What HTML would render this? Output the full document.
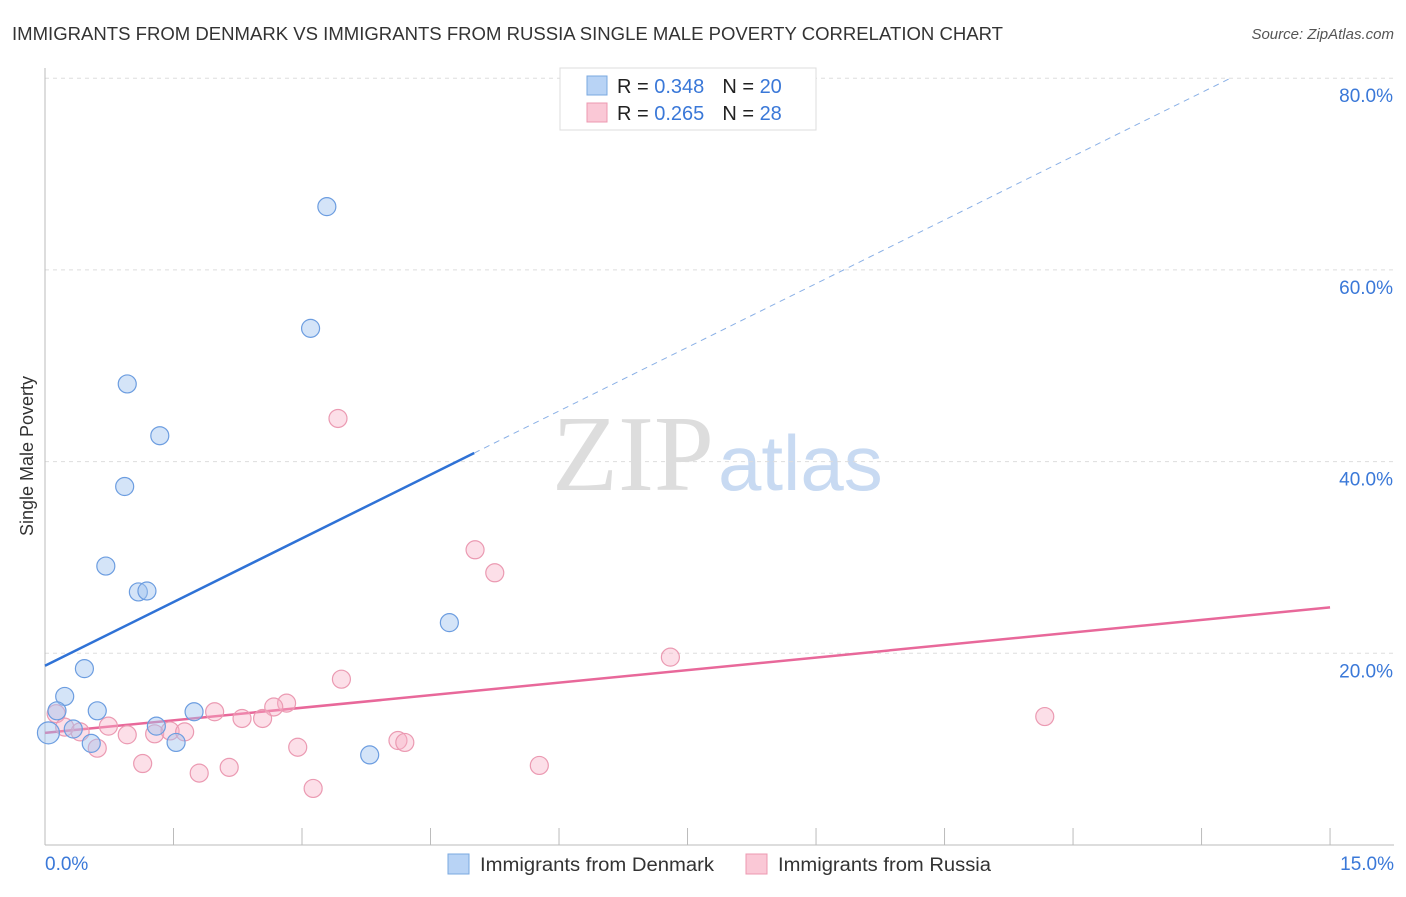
<!DOCTYPE html>
<html><head><meta charset="utf-8"><style>
body{margin:0;background:#fff;font-family:"Liberation Sans",sans-serif}
</style></head><body>
<svg width="1406" height="892" xmlns="http://www.w3.org/2000/svg">
<text x="12" y="40" font-size="18" fill="#333" textLength="991" lengthAdjust="spacingAndGlyphs">IMMIGRANTS FROM DENMARK VS IMMIGRANTS FROM RUSSIA SINGLE MALE POVERTY CORRELATION CHART</text>
<text x="1394" y="39" font-size="15" fill="#555" font-style="italic" text-anchor="end">Source: ZipAtlas.com</text>
<text x="714" y="490" font-size="108" font-family="Liberation Serif,serif" fill="#ddd" text-anchor="end">ZIP</text>
<text x="718" y="490" font-size="78" fill="#c8daf2">atlas</text>
<g id="grid"></g>
<line x1="45" y1="68" x2="45" y2="845" stroke="#bbb"/>
<line x1="45" y1="845" x2="1394" y2="845" stroke="#bbb"/>
<g id="ticks"></g>
<text x="33" y="456" font-size="18" fill="#333" text-anchor="middle" transform="rotate(-90 33 456)">Single Male Poverty</text>
<text x="45" y="870" font-size="19" fill="#3a78d8">0.0%</text>
<text x="1394" y="870" font-size="19" fill="#3a78d8" text-anchor="end">15.0%</text>
<g id="lines"></g>
<g id="pts"></g>
<g>
<rect x="560" y="68" width="256" height="62" fill="#fff" stroke="#ddd"/>
<rect x="587" y="76" width="20" height="19" fill="#b8d3f5" stroke="#7aa8e0"/>
<rect x="587" y="103" width="20" height="19" fill="#fac8d6" stroke="#ec98b0"/>
<text x="617" y="93" font-size="20" fill="#222">R = <tspan fill="#3a78d8">0.348</tspan><tspan dx="18">N = </tspan><tspan fill="#3a78d8">20</tspan></text>
<text x="617" y="120" font-size="20" fill="#222">R = <tspan fill="#3a78d8">0.265</tspan><tspan dx="18">N = </tspan><tspan fill="#3a78d8"> 28</tspan></text>
</g>
<g><rect x="448" y="854" width="21" height="20" fill="#b8d3f5" stroke="#7aa8e0"/><text x="480" y="871" font-size="19" fill="#333" textLength="234" lengthAdjust="spacingAndGlyphs">Immigrants from Denmark</text></g>
<g><rect x="746" y="854" width="21" height="20" fill="#fac8d6" stroke="#ec98b0"/><text x="778" y="871" font-size="19" fill="#333" textLength="213" lengthAdjust="spacingAndGlyphs">Immigrants from Russia</text></g>
</svg>
<script>
const yTicks=[20,40,60,80];
const xTicks=[0,1.5,3,4.5,6,7.5,9,10.5,12,13.5,15];
const blueX=[3.29,3.10,0.96,1.34,0.93,0.71,1.09,1.19,4.72,0.46,0.23,0.14,0.61,1.74,0.33,1.30,0.04,0.54,1.53,3.79];
const blueY=[66.6,53.9,48.1,42.7,37.4,29.1,26.4,26.5,23.2,18.4,15.5,14.0,14.0,13.9,12.1,12.4,11.7,10.6,10.7,9.4];
const pinkX=[3.42,5.02,5.25,7.30,11.67,3.46,2.82,2.67,1.98,2.30,2.54,0.74,0.13,0.23,0.41,0.96,1.28,1.46,1.63,2.95,0.61,4.12,4.20,1.14,2.15,1.80,5.77,3.13];
const pinkY=[44.5,30.8,28.4,19.6,13.4,17.3,14.8,14.4,13.9,13.2,13.2,12.4,13.7,12.3,11.8,11.5,11.6,11.9,11.8,10.2,10.1,10.9,10.7,8.5,8.1,7.5,8.3,5.9];
const blueLine=[18.7,4.43];const pinkLine=[11.7,0.873];
const sx=v=>45+v*85.67, sy=v=>845-v*9.585;
const NS="http://www.w3.org/2000/svg";
function mk(t,a,p){const e=document.createElementNS(NS,t);for(const k in a)e.setAttribute(k,a[k]);p.appendChild(e);return e;}
const grid=document.getElementById('grid'),ticks=document.getElementById('ticks');
yTicks.forEach(t=>{
const l=mk('line',{x1:45,x2:1394,y1:sy(t),y2:sy(t),stroke:'#ddd','stroke-dasharray':'4 4'},grid);


const tx=mk('text',{x:1393,y:sy(t)+24,'font-size':19,fill:'#3a78d8','text-anchor':'end'},ticks);
tx.textContent=t.toFixed(1)+'%';


});
xTicks.forEach(t=>{
const l=mk('line',{x1:sx(t),x2:sx(t),y1:828,y2:845,stroke:'#bbb'},ticks);


});
const lg=document.getElementById('lines');
const bx1=5.01,bxEnd=(80-blueLine[0])/blueLine[1];
let l=mk('line',{x1:sx(0),y1:sy(blueLine[0]),x2:sx(bx1),y2:sy(blueLine[0]+blueLine[1]*bx1),stroke:'#2f72d6','stroke-width':2.5},lg);


l=mk('line',{x1:sx(bx1),y1:sy(blueLine[0]+blueLine[1]*bx1),x2:sx(bxEnd),y2:sy(80),stroke:'#8ab0e6','stroke-width':1,'stroke-dasharray':'6 5'},lg);


l=mk('line',{x1:sx(0),y1:sy(pinkLine[0]),x2:sx(15),y2:sy(pinkLine[0]+pinkLine[1]*15),stroke:'#e8689a','stroke-width':2.5},lg);


const pg=document.getElementById('pts');
pinkX.forEach((x,i)=>{const c=mk('circle',{cx:sx(x),cy:sy(pinkY[i]),r:9,fill:'rgba(247,176,198,0.4)',stroke:'#eb9ab2','stroke-width':1.2},pg);

});
blueX.forEach((x,i)=>{const c=mk('circle',{cx:sx(x),cy:sy(blueY[i]),r:i==16?11:9,fill:'rgba(160,196,240,0.45)',stroke:'#6c9de0','stroke-width':1.2},pg);

});
</script>
</body></html>
